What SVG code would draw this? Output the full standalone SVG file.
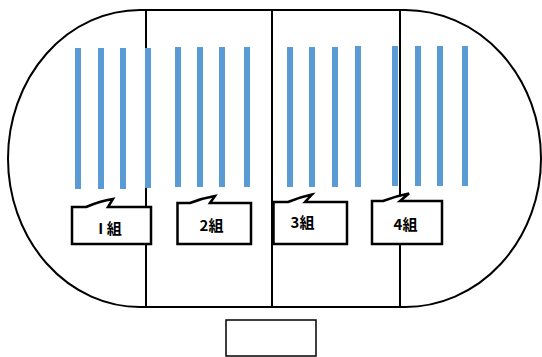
<svg xmlns="http://www.w3.org/2000/svg" width="542" height="357" viewBox="0 0 542 357">
<style>
.ln{fill:none;stroke:#000;stroke-width:2}
.bar{fill:#5B9BD5}
.box{fill:#fff;stroke:#000;stroke-width:2.5;stroke-linejoin:miter}
.lbl{font-family:"Noto Sans CJK JP","Noto Sans",sans-serif;font-size:15px;font-weight:bold;fill:#000;text-anchor:middle}
</style>
<rect width="542" height="357" fill="#fff"/>
<g id="track">
<path class="ln" d="M140,10 L405,10 A136,148.5 0 0 1 405,307 L140,307 A132,148.5 0 0 1 140,10 Z"/>
</g>
<g id="dividers">
<line class="ln" x1="146" y1="10" x2="146" y2="307"/>
<line class="ln" x1="272" y1="10" x2="272" y2="307"/>
<line class="ln" x1="400" y1="10" x2="400" y2="307"/>
</g>
<g id="bars1">
<rect class="bar" x="75" y="48" width="6" height="141"/>
<rect class="bar" x="98" y="48" width="6" height="141"/>
<rect class="bar" x="120" y="48" width="6" height="141"/>
<rect class="bar" x="145" y="48" width="6" height="140"/>
</g>
<g id="bars2">
<rect class="bar" x="175" y="47" width="6" height="140"/>
<rect class="bar" x="197" y="47" width="6" height="140"/>
<rect class="bar" x="219" y="47" width="6" height="140"/>
<rect class="bar" x="244" y="47" width="6" height="140"/>
</g>
<g id="bars3">
<rect class="bar" x="287" y="47" width="6" height="140"/>
<rect class="bar" x="309" y="47" width="6" height="140"/>
<rect class="bar" x="332" y="47" width="6" height="140"/>
<rect class="bar" x="355" y="46" width="6" height="141"/>
</g>
<g id="bars4">
<rect class="bar" x="392" y="46" width="6" height="140"/>
<rect class="bar" x="415" y="46" width="6" height="140"/>
<rect class="bar" x="437" y="46" width="6" height="140"/>
<rect class="bar" x="462" y="46" width="6" height="140"/>
</g>
<g id="label1">
<path class="box" d="M72,207 L86,207 Q100,201 113,199 L108,207 L151,207 L151,244 L72,244 Z"/>
<text class="lbl" x="110" y="234">I 組</text>
</g>
<g id="label2">
<path class="box" d="M177.5,203 L190,203 Q203,198 215,196 L210,203 L251,203 L251,244 L177.5,244 Z"/>
<text class="lbl" x="211.5" y="231">2組</text>
</g>
<g id="label3">
<path class="box" d="M273.5,202 L288,202 Q300,197 312,194.5 L305,202 L347,202 L347,244 L273.5,244 Z"/>
<text class="lbl" x="302.5" y="227.5">3組</text>
</g>
<g id="label4">
<path class="box" d="M372,201 L383,201 Q396,196 409,193.5 L400,201 L442,201 L442,244 L372,244 Z"/>
<text class="lbl" x="405.5" y="229.5">4組</text>
</g>
<g id="stage">
<rect x="226" y="320" width="90" height="36" fill="#fff" stroke="#000" stroke-width="1.5"/>
</g>
</svg>
